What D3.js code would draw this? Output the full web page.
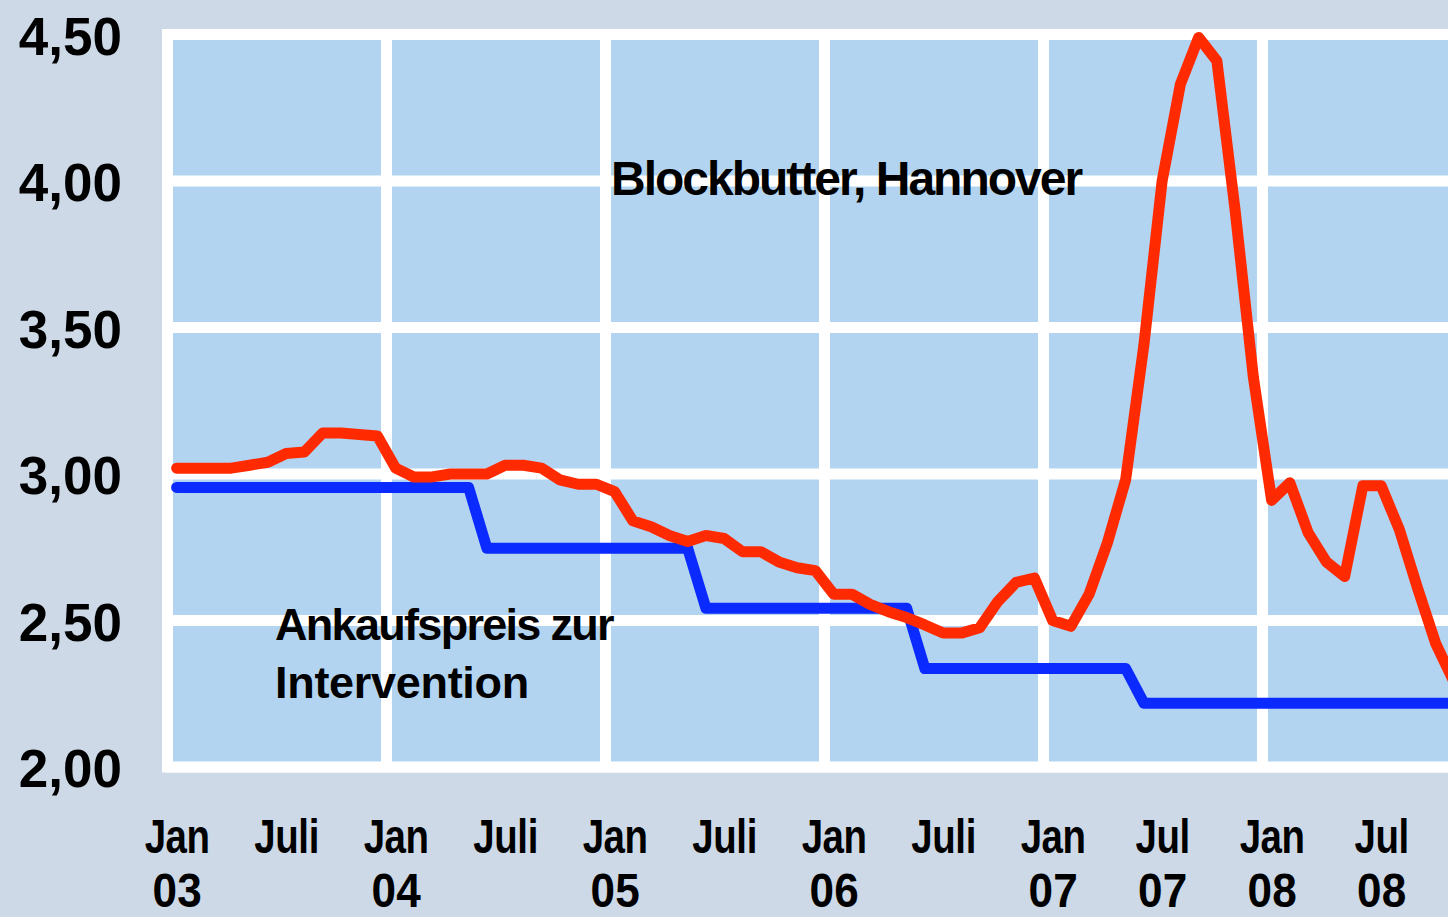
<!DOCTYPE html>
<html>
<head>
<meta charset="utf-8">
<script src="https://cdn.jsdelivr.net/npm/d3@7/dist/d3.min.js"></script>
<style>
  html, body { margin: 0; padding: 0; background: #cdd9e6; }
  svg { display: block; }
</style>
</head>
<body>
<svg id="chart" width="1448" height="917"></svg>
<script>
// ---- data (month index 0 = Jan 2003) ----
const monthCount = 71;
const blockbutter = [
  3.02, 3.02, 3.02, 3.02, 3.03, 3.04, 3.07, 3.075, 3.14, 3.14, 3.135, 3.13,
  3.02, 2.99, 2.99, 3.00, 3.00, 3.00, 3.03, 3.03, 3.02, 2.98, 2.965, 2.965,
  2.94, 2.84, 2.82, 2.79, 2.77, 2.79, 2.78, 2.735, 2.735, 2.70, 2.68, 2.67,
  2.59, 2.59, 2.555, 2.53, 2.51, 2.485, 2.457, 2.457, 2.475, 2.565, 2.63, 2.645,
  2.50, 2.48, 2.59, 2.765, 2.98, 3.44, 4.00, 4.33, 4.49, 4.41, 3.90, 3.33,
  2.91, 2.97, 2.80, 2.70, 2.65, 2.96, 2.96, 2.81, 2.61, 2.42, 2.29
];
const intervention = [
  2.954, 2.954, 2.954, 2.954, 2.954, 2.954, 2.954, 2.954, 2.954, 2.954, 2.954, 2.954,
  2.954, 2.954, 2.954, 2.954, 2.954, 2.747, 2.747, 2.747, 2.747, 2.747, 2.747, 2.747,
  2.747, 2.747, 2.747, 2.747, 2.747, 2.542, 2.542, 2.542, 2.542, 2.542, 2.542, 2.542,
  2.542, 2.542, 2.542, 2.542, 2.542, 2.336, 2.336, 2.336, 2.336, 2.336, 2.336, 2.336,
  2.336, 2.336, 2.336, 2.336, 2.336, 2.218, 2.218, 2.218, 2.218, 2.218, 2.218, 2.218,
  2.218, 2.218, 2.218, 2.218, 2.218, 2.218, 2.218, 2.218, 2.218, 2.218, 2.218
];
const xTickIndex = [0, 6, 12, 18, 24, 30, 36, 42, 48, 54, 60, 66];
const xTickMonth = ["Jan", "Juli", "Jan", "Juli", "Jan", "Juli", "Jan", "Juli", "Jan", "Jul", "Jan", "Jul"];
const xTickYear  = ["03", "", "04", "", "05", "", "06", "", "07", "07", "08", "08"];
const yTicks = [2.0, 2.5, 3.0, 3.5, 4.0, 4.5];
const yearBoundaries = [0, 12, 24, 36, 48, 60];
const labelButter = "Blockbutter, Hannover";
const labelIntervention = ["Ankaufspreis zur", "Intervention"];

// ---- layout ----
const W = 1448, H = 917;
const monthW = 18.25;
const x0 = 167.5;
const x = d3.scaleLinear().domain([-0.5, monthCount + 0.5]).range([x0, x0 + (monthCount + 1) * monthW]);
const y = d3.scaleLinear().domain([2, 4.5]).range([767, 34.5]);

const svg = d3.select("#chart");
svg.append("rect").attr("width", W).attr("height", H).attr("fill", "#cdd9e6");

// plot frame
const gridW = 11;
svg.append("rect")
  .attr("x", x0 - gridW / 2).attr("y", y(4.5) - gridW / 2)
  .attr("width", W + 20).attr("height", y(2) - y(4.5) + gridW)
  .attr("rx", 5).attr("fill", "#ffffff");
svg.append("rect")
  .attr("x", x0).attr("y", y(4.5))
  .attr("width", W).attr("height", y(2) - y(4.5))
  .attr("fill", "#b3d4f1");

// grid
const grid = svg.append("g");
grid.selectAll("line.h").data(yTicks).join("line")
  .attr("x1", x0 - gridW / 2).attr("x2", W + 10)
  .attr("y1", d => y(d)).attr("y2", d => y(d))
  .attr("stroke", "#ffffff").attr("stroke-width", gridW);
grid.selectAll("line.v").data(yearBoundaries).join("line")
  .attr("x1", d => x(d - 0.5)).attr("x2", d => x(d - 0.5))
  .attr("y1", y(4.5)).attr("y2", y(2))
  .attr("stroke", "#ffffff").attr("stroke-width", gridW);

// y axis
const yAxis = d3.axisLeft(y).tickValues(yTicks).tickSize(0).tickPadding(0)
  .tickFormat(d => d.toFixed(2).replace(".", ","));
const gy = svg.append("g").attr("transform", "translate(122,0)").call(yAxis);
gy.select(".domain").remove();
gy.selectAll("text")
  .attr("dy", "0.37em")
  .attr("fill", "#000")
  .style("font-family", "'Liberation Sans', Arial, sans-serif")
  .style("font-weight", "bold")
  .style("font-size", "53px");

// x axis
const xAxis = d3.axisBottom(x).tickValues(xTickIndex).tickSize(0).tickPadding(0).tickFormat(() => "");
const gx = svg.append("g").attr("transform", "translate(0,0)").call(xAxis);
gx.select(".domain").remove();
gx.selectAll(".tick").each(function(d, i) {
  const tk = d3.select(this);
  tk.select("text").remove();
  tk.append("text")
    .attr("transform", "translate(0,852.7) scale(0.8,1)")
    .attr("text-anchor", "middle").attr("fill", "#000")
    .style("font-family", "'Liberation Sans', Arial, sans-serif")
    .style("font-weight", "bold").style("font-size", "48px")
    .style("letter-spacing", "-0.5px")
    .text(xTickMonth[i]);
  if (xTickYear[i]) {
    tk.append("text")
      .attr("transform", "translate(0,906.5) scale(0.9,1)")
      .attr("text-anchor", "middle").attr("fill", "#000")
      .style("font-family", "'Liberation Sans', Arial, sans-serif")
      .style("font-weight", "bold").style("font-size", "49px")
      .text(xTickYear[i]);
  }
});

// lines
const idx = d3.range(monthCount);
const line = d3.line().x(d => x(d[0])).y(d => y(d[1]));
svg.append("path")
  .attr("d", line(idx.map(i => [i, intervention[i]])))
  .attr("fill", "none").attr("stroke", "#0a2aff").attr("stroke-width", 11)
  .attr("stroke-linejoin", "round").attr("stroke-linecap", "round");
svg.append("path")
  .attr("d", line(idx.map(i => [i, blockbutter[i]])))
  .attr("fill", "none").attr("stroke", "#ff2a00").attr("stroke-width", 11)
  .attr("stroke-linejoin", "round").attr("stroke-linecap", "round");

// annotations
const textFont = "'Liberation Sans', Arial, sans-serif";
svg.append("text").attr("x", 611).attr("y", 195)
  .style("font-family", textFont).style("font-weight", "bold")
  .style("font-size", "48px").style("letter-spacing", "-2px")
  .attr("fill", "#000").text(labelButter);
svg.append("text").attr("x", 275).attr("y", 640)
  .style("font-family", textFont).style("font-weight", "bold")
  .style("font-size", "45px").style("letter-spacing", "-1.7px")
  .attr("fill", "#000").text(labelIntervention[0]);
svg.append("text").attr("x", 275).attr("y", 698)
  .style("font-family", textFont).style("font-weight", "bold")
  .style("font-size", "45px").style("letter-spacing", "-0.3px")
  .attr("fill", "#000").text(labelIntervention[1]);
</script>
</body>
</html>
